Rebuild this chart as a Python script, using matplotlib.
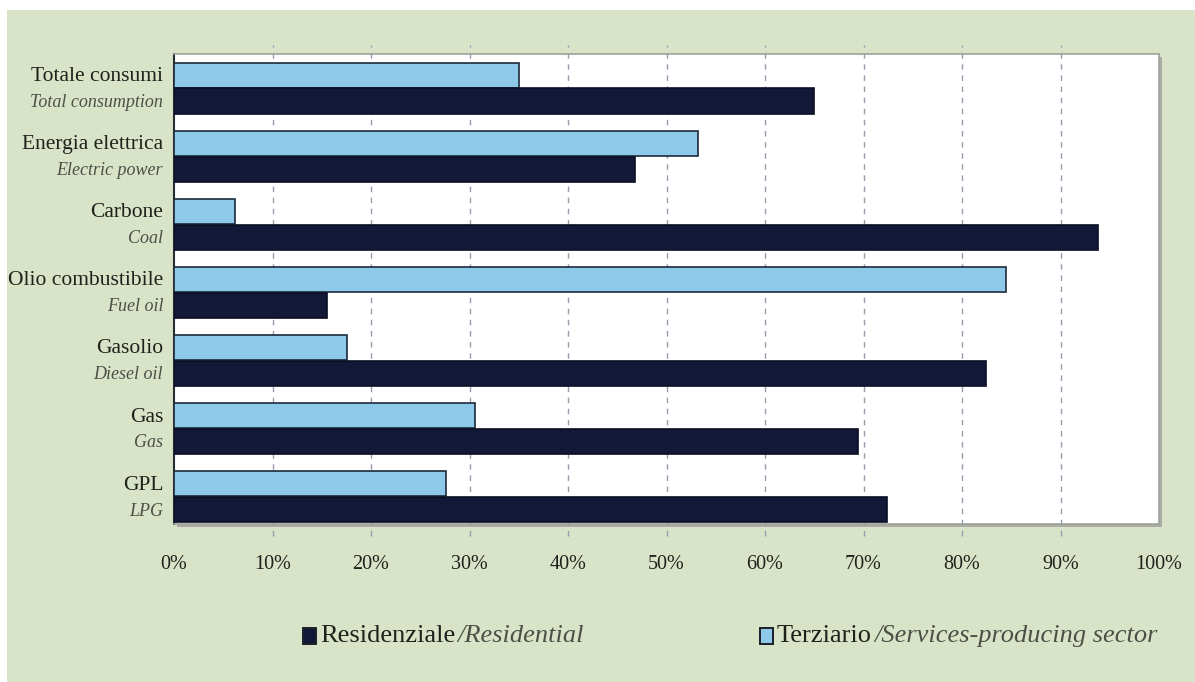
import matplotlib
matplotlib.use("Agg")
import matplotlib.pyplot as plt
from matplotlib.patches import Rectangle
from matplotlib.transforms import blended_transform_factory

# Share of final energy consumption by sector (%)
categories_it = ["Totale consumi", "Energia elettrica", "Carbone", "Olio combustibile",
                 "Gasolio", "Gas", "GPL"]
categories_en = ["Total consumption", "Electric power", "Coal", "Fuel oil",
                 "Diesel oil", "Gas", "LPG"]
terziario = [35.0, 53.2, 6.2, 84.5, 17.6, 30.6, 27.6]
residenziale = [65.0, 46.8, 93.8, 15.5, 82.4, 69.4, 72.4]
x_ticks = [0, 10, 20, 30, 40, 50, 60, 70, 80, 90, 100]
x_tick_labels = [f"{v}%" for v in x_ticks]

W, H = 1195, 682
BG = "#d9e3c8"
LIGHT = "#8ec9ea"
DARK = "#121838"
TXT = "#1f221b"
TXT_IT = "#4b5046"
SERIF = ["Liberation Serif", "DejaVu Serif"]

fig = plt.figure(figsize=(W / 100, H / 100), dpi=100)
fig.patch.set_facecolor("white")
fig.patches.append(Rectangle((7 / W, 0), 1 - 7 / W, (H - 10) / H,
                             transform=fig.transFigure, facecolor=BG,
                             edgecolor="none", zorder=-3))

ax_l, ax_r, ax_t, ax_b = 174, 1159, 54, 524
ax = fig.add_axes([ax_l / W, (H - ax_b) / H, (ax_r - ax_l) / W, (ax_b - ax_t) / H])
ax.set_facecolor("white")
ax.set_zorder(1)

# drop shadow behind the plot frame
fig.patches.append(Rectangle(((ax_l + 3) / W, (H - ax_b - 3) / H),
                             (ax_r - ax_l) / W, (ax_b - ax_t) / H,
                             transform=fig.transFigure, facecolor="#a9ada3",
                             edgecolor="none", zorder=-2))

n = len(categories_it)
centers = [i + 0.5 for i in range(n)]
off, bh = 0.19, 0.37
ax.barh([c - off for c in centers], terziario, height=bh, color=LIGHT,
        edgecolor="#1d2a3a", linewidth=1.2, zorder=3)
ax.barh([c + off for c in centers], residenziale, height=bh, color=DARK,
        edgecolor="#0b0f24", linewidth=1.2, zorder=3)

ax.set_xlim(0, 100)
ax.set_ylim(n - 0.1, 0)

# dashed grid running slightly past the frame
vt = blended_transform_factory(ax.transData, ax.transAxes)
for v in x_ticks[1:-1]:
    ax.plot([v, v], [-0.025, 1.02], transform=vt, color="#9a9cae", lw=1.0,
            ls=(0, (4, 4)), zorder=1, clip_on=False)

ax.set_xticks(x_ticks)
ax.set_xticklabels(x_tick_labels, family=SERIF, fontsize=14.5, color=TXT)
ax.tick_params(axis="x", length=0, pad=22)
ax.set_yticks([])
for s in ["top", "right", "bottom"]:
    ax.spines[s].set_color("#9ea19a")
    ax.spines[s].set_linewidth(1.2)
ax.spines["left"].set_color("#2a2d33")
ax.spines["left"].set_linewidth(1.5)

# two-line category labels: Italian above, English italic below
lt = blended_transform_factory(ax.transAxes, ax.transData)
for c, it, en in zip(centers, categories_it, categories_en):
    ax.text(-0.011, c - off + 0.02, it, transform=lt, ha="right", va="center",
            family=SERIF, fontsize=15.5, color=TXT)
    ax.text(-0.011, c + off + 0.02, en, transform=lt, ha="right", va="center",
            family=SERIF, fontsize=13, style="italic", color=TXT_IT)

# legend drawn by hand: swatch, regular label, italic translation
renderer = fig.canvas.get_renderer()
ly = (H - 636) / H


def legend_entry(x_px, color, label, label_en):
    fig.patches.append(Rectangle((x_px / W, (H - 644) / H), 13 / W, 16 / H,
                                 transform=fig.transFigure, facecolor=color,
                                 edgecolor="#1b1f2a", linewidth=1.4, zorder=2))
    t = fig.text((x_px + 17) / W, ly, label, family=SERIF, fontsize=19,
                 color=TXT, va="center", ha="left")
    bb = t.get_window_extent(renderer)
    fig.text((bb.x1 + 2) / W, ly, label_en, family=SERIF, fontsize=19,
             style="italic", color=TXT_IT, va="center", ha="left")


legend_entry(303, DARK, "Residenziale", "/Residential")
legend_entry(760, LIGHT, "Terziario", "/Services-producing sector")

fig.savefig("out.png", dpi=100, facecolor=fig.get_facecolor())
